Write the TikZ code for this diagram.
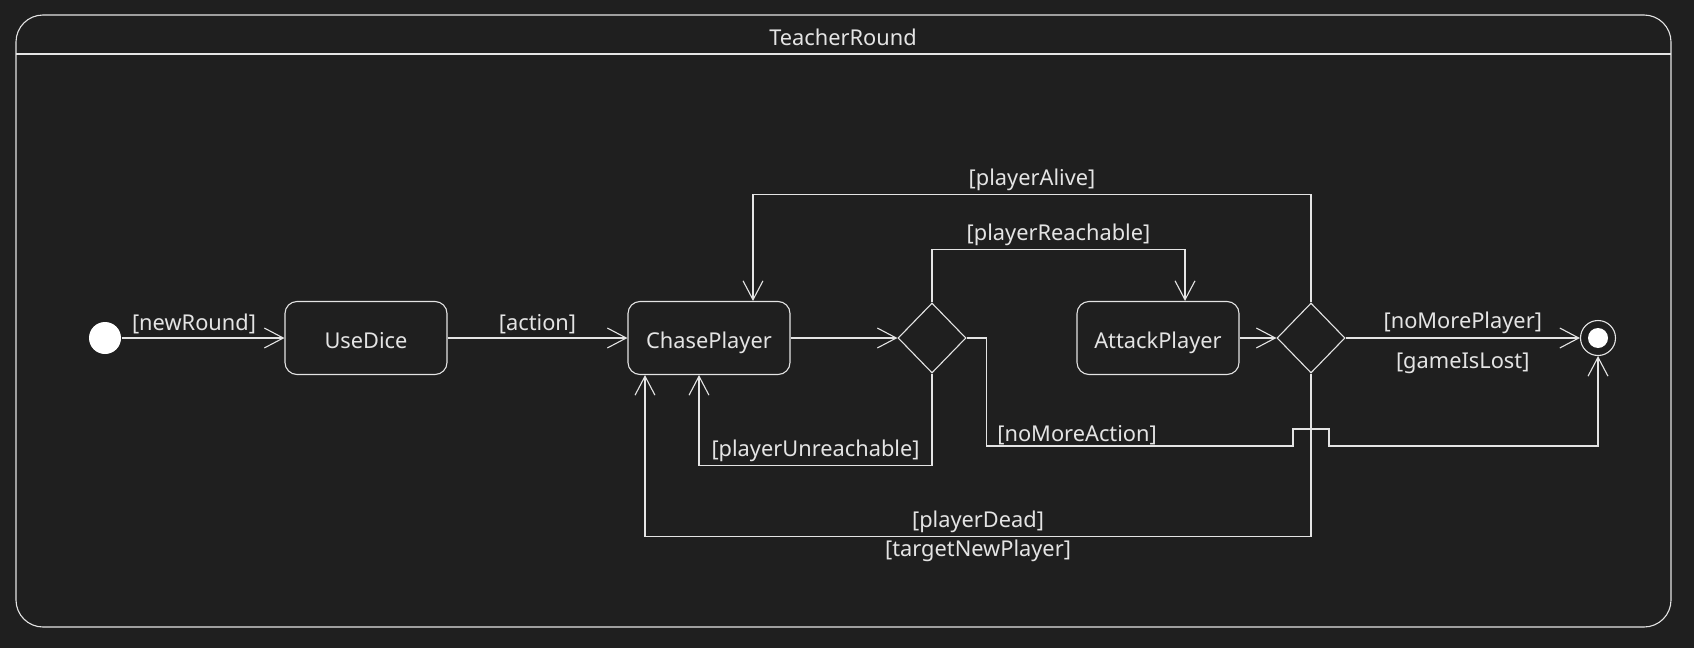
\documentclass[tikz,border=0pt]{standalone}
\usepackage{fontspec}
\setmainfont{Noto Sans}
\usetikzlibrary{arrows.meta, shapes.geometric}
\definecolor{bgdark}{RGB}{31,31,31}
\definecolor{fg}{RGB}{228,228,228}

\begin{document}
\begin{tikzpicture}[
  x=1pt, y=-1pt,
  color=fg, line width=1.1pt,
  every node/.style={font=\fontsize{21.8}{26}\selectfont, inner sep=3.3pt},
  state/.style={draw, rounded corners=12pt, minimum width=162pt, minimum height=73pt,
                text height=22pt, text depth=2pt},
  choice/.style={draw, diamond, minimum width=68pt, minimum height=70pt, inner sep=0pt},
  >={Straight Barb[length=19pt, width=20pt]}
]
  \fill[bgdark] (0,0) rectangle (1694,648);

  % composite state
  \draw[rounded corners=27pt] (16,15) rectangle (1671,627);
  \draw (16,54) -- (1671,54);
  \node (title) at (843,37) {TeacherRound};

  \node[circle, fill=white, minimum size=32pt, inner sep=0pt] (start) at (105,338) {};
  \node[state] (usedice) at (366,338) {UseDice};
  \node[state] (chase)   at (709,338) {ChasePlayer};
  \node[choice] (reach)  at (932,338) {};
  \node[state] (attack)  at (1158,338) {AttackPlayer};
  \node[choice] (alive)  at (1311,338) {};
  \node[circle, draw, minimum size=35pt, inner sep=0pt,
        path picture={\fill[white] (path picture bounding box.center) circle[radius=10pt];}]
        (stop) at (1598,338) {};

  \draw[->] (start) -- node[above, xshift=-9pt] {[newRound]} (usedice);
  \draw[->] (usedice) -- node[above] {[action]} (chase);
  \draw[->] (chase) -- (reach);
  \draw[->] (attack) -- (alive);
  \draw[->] (alive) -- node[above] {[noMorePlayer]} node[below, yshift=-11pt] {[gameIsLost]} (stop);

  \draw[->] (reach.north) -- ++(0,-53) -| node[pos=0.25, above] {[playerReachable]} ([xshift=27pt]attack.north);
  \draw[->] (alive.north) -- ++(0,-108) -| node[pos=0.25, above] {[playerAlive]} ([xshift=44pt]chase.north);
  \draw[->] (reach.south) -- ++(0,92) -| node[pos=0.25, above] {[playerUnreachable]} ([xshift=-10pt]chase.south);
  \draw[->] (alive.south) -- ++(0,163) -| node[pos=0.25, above] {[playerDead]}
    node[pos=0.25, below] {[targetNewPlayer]} ([xshift=-64pt]chase.south);

  % jumps over the playerDead line
  \draw[->] (reach.east) -- ++(20,0) -- ++(0,108) node[above right, xshift=7pt, yshift=-3pt] {[noMoreAction]}
    -- (1293,446) -- (1293,429) -- (1329,429) -- (1329,446) -| (stop.south);
\end{tikzpicture}
\end{document}
